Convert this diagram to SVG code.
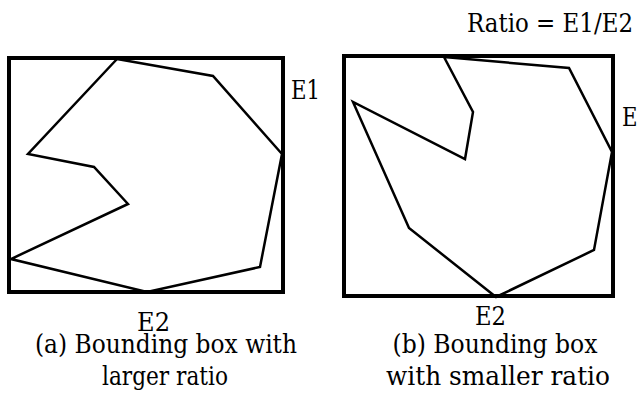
<svg xmlns="http://www.w3.org/2000/svg" width="637" height="400" viewBox="0 0 637 400">
<style>
.box{fill:none;stroke:#000;stroke-width:4}
.poly{fill:none;stroke:#000;stroke-width:2.5;stroke-linejoin:miter}
text{font-family:'DejaVu Serif',serif;font-size:26px;fill:#000}
.m{text-anchor:middle}
</style>
<rect width="637" height="400" fill="#fff"/>
<g id="panel-a">
<rect class="box" x="9" y="58" width="274" height="234"/>
<polygon class="poly" points="117,59 213,76 282,154 260,267 147,292 11,259 128,204 94,167 28,154"/>
<text x="291" y="99" textLength="29" lengthAdjust="spacingAndGlyphs">E1</text>
<text x="137" y="331" textLength="33" lengthAdjust="spacingAndGlyphs">E2</text>
<text class="m" x="166" y="353" textLength="262" lengthAdjust="spacingAndGlyphs">(a) Bounding box with</text>
<text class="m" x="165" y="385" textLength="126" lengthAdjust="spacingAndGlyphs">larger ratio</text>
</g>
<g id="panel-b">
<rect class="box" x="344" y="56" width="269" height="240"/>
<polygon class="poly" points="444,57 569,68 612,152 594,250 496,297 409,228 353,102 465,159 473,112"/>
<text x="622" y="126" textLength="29" lengthAdjust="spacingAndGlyphs">E1</text>
<text x="475" y="325" textLength="31" lengthAdjust="spacingAndGlyphs">E2</text>
<text class="m" x="495" y="353" textLength="205" lengthAdjust="spacingAndGlyphs">(b) Bounding box</text>
<text class="m" x="498" y="385" textLength="224" lengthAdjust="spacingAndGlyphs">with smaller ratio</text>
<text x="467" y="32" textLength="166" lengthAdjust="spacingAndGlyphs">Ratio = E1/E2</text>
</g>
</svg>
